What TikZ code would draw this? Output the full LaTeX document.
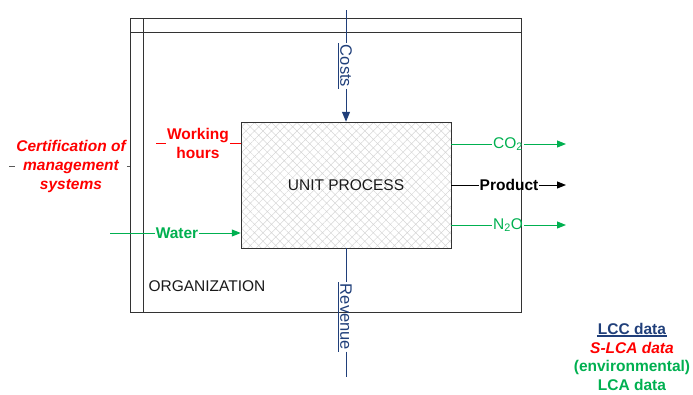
\documentclass[tikz,border=0pt]{standalone}
\usepackage{fontspec}
\setmainfont{Liberation Sans}
\usetikzlibrary{arrows.meta,patterns.meta}
\definecolor{lccblue}{HTML}{203F7A}
\definecolor{sred}{HTML}{FF0000}
\definecolor{lgreen}{HTML}{00B050}
\definecolor{frame}{HTML}{333333}
\tikzset{
  base/.style={font=\fontsize{15.5}{19}\selectfont},
  lbl/.style={base, inner sep=1pt},
  bluelbl/.style={lbl, text=lccblue, rotate=-90, inner sep=1.5pt, font=\fontsize{16.5}{19}\selectfont},
  greenlbl/.style={lbl, text=lgreen, font=\fontsize{15.5}{19}\selectfont\bfseries},
  redlbl/.style={lbl, text=sred, align=center, font=\fontsize{15.5}{19}\selectfont\bfseries},
  tipg/.style={-{Triangle[length=9pt,width=7pt]}},
  flow/.style={line width=1pt},
  uline/.style={line width=1.3pt},
}
\begin{document}
\begin{tikzpicture}[x=1pt,y=-1pt]
\useasboundingbox (0,0) rectangle (693,394);
% organization frame
\node[draw=frame, line width=1pt, minimum width=391pt, minimum height=294pt, inner sep=0pt, anchor=north west] (org) at (130,18) {};
\draw[frame, line width=1pt] ([xshift=13pt]org.north west) -- ([xshift=13pt]org.south west);
\draw[frame, line width=1pt] ([yshift=-14pt]org.north west) -- ([yshift=-14pt]org.north east);
\node[base, anchor=west, text=black!90] (orglbl) at (145,286) {ORGANIZATION};
% unit process
\node[draw=frame, line width=1pt, minimum width=210pt, minimum height=126pt, inner sep=0pt,
      pattern={Hatch[angle=45,distance=6pt,line width=0.5pt]}, pattern color=black!16] (up) at (346,185) {};
\node[base, text=black!90] (uplbl) at (346,185) {UNIT PROCESS};
% costs
\coordinate (ctop) at (346,10);
\node[bluelbl] (costs) at (346,66) {Costs};
\draw[lccblue, uline] (costs.south west) -- (costs.south east);
\draw[lccblue, flow] (ctop) -- (costs.west);
\draw[lccblue, flow, -{Triangle[length=10pt,width=8pt]}] (costs.east) -- (up.north);
% revenue
\coordinate (rend) at (346,377);
\node[bluelbl] (rev) at (346,317) {Revenue};
\draw[lccblue, uline] (rev.south west) -- (rev.south east);
\draw[lccblue, flow] (up.south) -- (rev.west);
\draw[lccblue, flow] (rev.east) -- (rend);
% working hours
\coordinate (wst) at (156,143);
\node[redlbl] (wh) at (198,143) {Working\\hours};
\draw[sred, flow] (wst) -- (wh.west);
\draw[sred, flow] (wh.east) -- (wh.east -| up.west);
% certification
\coordinate (cst) at (9,166);
\node[redlbl, font=\fontsize{15.5}{19}\selectfont\bfseries\itshape] (cert) at (71,166) {Certification of\\management\\systems};
\draw[black!65, flow] (cst) -- (cert.west);
\draw[black!65, flow] (cert.east) -- (cert.east -| org.west);
% water
\coordinate (wast) at (110,233);
\node[greenlbl] (water) at (177,233) {Water};
\draw[lgreen, flow] (wast) -- (water.west);
\draw[lgreen, flow, tipg] (water.east) -- (water.east -| up.west);
% outputs
\coordinate (co2s) at ([yshift=41pt]up.east);
\coordinate (prods) at (up.east);
\coordinate (n2os) at ([yshift=-40pt]up.east);
\coordinate (co2e) at (566,144);
\coordinate (prode) at (566,185);
\coordinate (n2oe) at (566,225);
\node[lbl, text=lgreen] (co2) at (508,144) {CO\textsubscript{2}};
\node[lbl, font=\fontsize{15.5}{19}\selectfont\bfseries] (prod) at (509,185) {Product};
\node[lbl, text=lgreen] (n2o) at (508,225) {N\textsubscript{2}O};
\draw[lgreen, flow] (co2s) -- (co2.west);
\draw[lgreen, flow, tipg] (co2.east) -- (co2e);
\draw[black, flow] (prods) -- (prod.west);
\draw[black, flow, tipg] (prod.east) -- (prode);
\draw[lgreen, flow] (n2os) -- (n2o.west);
\draw[lgreen, flow, tipg] (n2o.east) -- (n2oe);
% legend
\node[lbl, text=lccblue, font=\fontsize{15.5}{19}\selectfont\bfseries] (leg1) at (632,329) {LCC data};
\draw[lccblue, uline] (leg1.south west) -- (leg1.south east);
\node[lbl, text=sred, font=\fontsize{15.5}{19}\selectfont\bfseries\itshape] (leg2) at (632,348) {S-LCA data};
\node[greenlbl] (leg3) at (632,367) {(environmental)};
\node[greenlbl, inner sep=0.5pt] (leg4) at (632,384.5) {LCA data};
\end{tikzpicture}
\end{document}
